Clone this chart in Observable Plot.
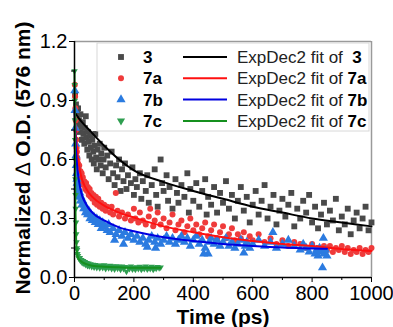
<!DOCTYPE html>
<html><head><meta charset="utf-8">
<script src="https://cdn.jsdelivr.net/npm/d3@7"></script>
<script src="https://cdn.jsdelivr.net/npm/@observablehq/plot@0.6"></script>
<style>body{margin:0;background:#fff} svg{font-family:"Liberation Sans",Arial,sans-serif}</style>
</head><body><div id="chart"></div>
<script>
const seriesNames = ["3","7a","7b","7c"];
const fitPrefix = "ExpDec2 fit of ";
const xLabel = "Time (ps)";
const xTicks = [0,200,400,600,800,1000];
const xMinor = [100,300,500,700,900];
const yTicks = [0,0.3,0.6,0.9,1.2];
const yMinor = [0.15,0.45,0.75,1.05];

// scatter data: [time (ps), normalized ΔO.D.]
const s3 = [[2,0.93],[5,0.88],[8,0.84],[10,0.78],[12,0.86],[15,0.80],[18,0.74],[20,0.83],[22,0.77],[25,0.70],[28,0.79],[30,0.73],[33,0.68],[35,0.76],[38,0.82],[40,0.71],[43,0.65],[45,0.74],[48,0.69],[50,0.62],[53,0.72],[55,0.66],[58,0.60],[60,0.70],[63,0.64],[65,0.58],[68,0.67],[70,0.73],[73,0.61],[75,0.55],[78,0.65],[80,0.60],[85,0.68],[88,0.57],[90,0.63],[95,0.53],[98,0.60],[100,0.66],[105,0.56],[110,0.62],[115,0.50],[120,0.58],[125,0.64],[130,0.53],[135,0.47],[140,0.57],[145,0.51],[150,0.60],[155,0.44],[160,0.55],[165,0.49],[170,0.58],[175,0.45],[180,0.52],[190,0.48],[195,0.56],[200,0.42],[205,0.50],[210,0.46],[220,0.53],[225,0.40],[230,0.49],[240,0.44],[245,0.52],[250,0.38],[260,0.47],[270,0.55],[275,0.42],[280,0.36],[290,0.60],[295,0.48],[300,0.44],[310,0.52],[315,0.39],[320,0.46],[330,0.35],[340,0.50],[345,0.43],[350,0.38],[360,0.47],[370,0.41],[380,0.53],[385,0.33],[390,0.45],[400,0.39],[410,0.48],[420,0.36],[430,0.44],[440,0.50],[445,0.32],[450,0.41],[460,0.37],[470,0.46],[480,0.33],[490,0.43],[500,0.38],[510,0.49],[520,0.35],[530,0.42],[540,0.30],[550,0.39],[560,0.46],[570,0.34],[580,0.41],[590,0.28],[600,0.37],[610,0.44],[620,0.32],[630,0.39],[640,0.47],[650,0.30],[660,0.36],[670,0.42],[680,0.27],[690,0.34],[700,0.40],[710,0.31],[720,0.37],[730,0.43],[740,0.26],[750,0.35],[760,0.30],[770,0.39],[780,0.33],[790,0.42],[800,0.28],[810,0.36],[820,0.25],[830,0.32],[840,0.38],[850,0.27],[860,0.34],[870,0.29],[880,0.40],[890,0.24],[900,0.31],[910,0.27],[920,0.35],[930,0.22],[940,0.29],[950,0.33],[960,0.25],[970,0.30],[980,0.36],[990,0.24],[1000,0.28]];
const s7a = [[1,0.98],[2,0.92],[3,0.86],[4,0.80],[5,0.75],[6,0.70],[7,0.66],[8,0.64],[9,0.61],[10,0.60],[12,0.58],[14,0.55],[16,0.57],[18,0.52],[20,0.54],[22,0.50],[24,0.53],[26,0.48],[28,0.51],[30,0.47],[33,0.49],[36,0.45],[39,0.48],[42,0.44],[45,0.46],[48,0.42],[51,0.45],[54,0.41],[57,0.43],[60,0.40],[64,0.42],[68,0.38],[72,0.41],[76,0.37],[80,0.40],[85,0.36],[90,0.38],[95,0.35],[100,0.37],[105,0.34],[110,0.36],[120,0.33],[125,0.36],[130,0.32],[139,0.43],[145,0.34],[150,0.31],[160,0.33],[170,0.30],[180,0.32],[190,0.29],[200,0.35],[205,0.30],[215,0.28],[220,0.33],[230,0.29],[240,0.27],[250,0.31],[255,0.35],[265,0.26],[270,0.29],[280,0.33],[290,0.27],[300,0.30],[310,0.25],[320,0.28],[330,0.32],[340,0.24],[350,0.27],[360,0.29],[370,0.23],[380,0.26],[390,0.30],[400,0.24],[410,0.27],[420,0.22],[430,0.25],[440,0.28],[450,0.21],[460,0.24],[470,0.27],[480,0.20],[490,0.23],[500,0.26],[510,0.20],[520,0.22],[530,0.25],[540,0.19],[550,0.22],[560,0.20],[570,0.23],[580,0.18],[590,0.21],[600,0.19],[620,0.22],[640,0.18],[660,0.20],[680,0.17],[700,0.19],[720,0.16],[740,0.18],[760,0.17],[780,0.15],[800,0.17],[820,0.15],[840,0.16],[850,0.14],[860,0.16],[870,0.13],[880,0.15],[890,0.14],[900,0.16],[910,0.13],[920,0.15],[930,0.12],[940,0.14],[950,0.13],[960,0.15],[970,0.12],[980,0.14],[990,0.13],[1000,0.15]];
const s7b = [[1,0.95],[2,0.85],[3,0.76],[4,0.68],[5,0.62],[6,0.57],[7,0.53],[8,0.50],[9,0.48],[10,0.46],[12,0.44],[14,0.45],[16,0.41],[18,0.43],[20,0.39],[22,0.41],[25,0.37],[28,0.39],[31,0.35],[34,0.37],[37,0.33],[40,0.35],[44,0.32],[48,0.34],[52,0.30],[56,0.32],[60,0.29],[65,0.31],[70,0.28],[75,0.30],[80,0.27],[85,0.29],[90,0.25],[95,0.28],[100,0.26],[110,0.24],[115,0.27],[120,0.23],[130,0.25],[135,0.19],[140,0.22],[150,0.24],[160,0.21],[165,0.17],[170,0.23],[180,0.20],[190,0.22],[200,0.19],[210,0.21],[220,0.18],[230,0.20],[240,0.17],[245,0.155],[250,0.19],[260,0.21],[270,0.18],[273,0.15],[280,0.20],[290,0.17],[300,0.19],[310,0.21],[320,0.18],[330,0.20],[340,0.17],[350,0.19],[360,0.21],[370,0.18],[380,0.20],[390,0.16],[400,0.19],[410,0.21],[420,0.17],[430,0.19],[435,0.12],[440,0.15],[450,0.12],[455,0.18],[460,0.20],[470,0.17],[480,0.19],[490,0.16],[500,0.18],[510,0.20],[520,0.16],[530,0.18],[540,0.15],[550,0.17],[560,0.19],[570,0.125],[575,0.16],[580,0.18],[590,0.15],[600,0.17],[620,0.19],[640,0.16],[660,0.18],[668,0.23],[680,0.15],[700,0.17],[720,0.19],[740,0.16],[760,0.14],[770,0.17],[780,0.15],[790,0.13],[800,0.16],[810,0.12],[815,0.14],[820,0.11],[825,0.15],[830,0.13],[835,0.05],[838,0.20],[840,0.12],[845,0.14],[850,0.11]];
const s7c = [[0,1.05],[0.5,0.98],[1,0.9],[1.5,0.8],[2,0.7],[2.5,0.6],[3,0.5],[3.5,0.42],[4,0.35],[5,0.28],[6,0.22],[7,0.18],[8,0.15],[9,0.14],[10,0.12],[12,0.11],[14,0.10],[16,0.095],[18,0.10],[20,0.085],[23,0.09],[26,0.075],[29,0.085],[32,0.07],[35,0.08],[38,0.065],[41,0.075],[44,0.06],[47,0.072],[50,0.058],[54,0.068],[58,0.055],[62,0.066],[66,0.052],[70,0.064],[75,0.05],[80,0.062],[85,0.048],[90,0.06],[95,0.05],[100,0.063],[105,0.045],[110,0.058],[115,0.048],[120,0.06],[125,0.044],[130,0.056],[135,0.042],[140,0.058],[145,0.046],[150,0.055],[155,0.04],[160,0.057],[165,0.045],[170,0.054],[175,0.03],[180,0.052],[185,0.044],[190,0.056],[195,0.042],[200,0.05],[205,0.04],[210,0.053],[215,0.045],[220,0.055],[225,0.04],[230,0.05],[235,0.044],[240,0.056],[245,0.042],[250,0.05],[255,0.045],[260,0.055],[265,0.04],[270,0.05],[275,0.046],[280,0.054],[285,0.048],[290,0.052]];

// fitted curves
const fit3 = [[0,0.84],[25,0.79],[50,0.75],[100,0.67],[150,0.60],[200,0.545],[300,0.485],[400,0.44],[500,0.40],[600,0.36],[700,0.33],[800,0.30],[900,0.28],[1000,0.26]];
const fit7a = [[0,0.85],[5,0.72],[10,0.63],[20,0.53],[40,0.45],[60,0.41],[100,0.365],[150,0.33],[200,0.305],[300,0.26],[400,0.23],[500,0.205],[600,0.185],[700,0.17],[800,0.16],[900,0.145],[1000,0.135]];
const fit7b = [[0,0.85],[5,0.65],[10,0.55],[20,0.45],[40,0.37],[60,0.33],[100,0.29],[150,0.255],[200,0.235],[300,0.205],[400,0.185],[500,0.17],[600,0.16],[700,0.152],[800,0.148],[850,0.146]];
const fit7c = [[0,1.05],[1,0.8],[2,0.55],[3,0.38],[5,0.22],[8,0.13],[12,0.10],[20,0.085],[40,0.068],[60,0.06],[100,0.055],[150,0.052],[200,0.05],[290,0.05]];

const dotColors = ["#4a4a4a","#ef3b3b","#2b7be0","#2e9e50"];
const lineColors = ["#000000","#ff1010","#0000e0","#15901e"];

const triDown = {draw(ctx,size){const y=Math.sqrt(size/(Math.sqrt(3)*3));ctx.moveTo(0,2*y);ctx.lineTo(-Math.sqrt(3)*y,-y);ctx.lineTo(Math.sqrt(3)*y,-y);ctx.closePath();}};
const symbols = ["square","circle","triangle",triDown];
const radii = [3.3,3,3.4,2.4];
const scatter = [s3,s7a,s7b,s7c];
const fits = [fit3,fit7a,fit7b,fit7c];

const X = d=>d[0], Y = d=>d[1];
const plot = Plot.plot({
  width:393, height:327, marginLeft:74, marginRight:22, marginTop:41, marginBottom:50,
  style:{fontFamily:"Liberation Sans, Arial, sans-serif", fontSize:"20px", color:"#000", background:"#fff", overflow:"visible"},
  x:{domain:[0,1000]}, y:{domain:[0,1.2]},
  marks:[
    Plot.ruleY([1.2],{stroke:"#9a9a9a",strokeWidth:1.5}),
    Plot.ruleX([1000],{stroke:"#9a9a9a",strokeWidth:1.5}),
    ...scatter.map((s,i)=>Plot.dot(s,{x:X,y:Y,symbol:()=>symbols[i],r:radii[i],fill:dotColors[i],stroke:null})),
    ...fits.map((f,i)=>Plot.line(f,{x:X,y:Y,stroke:lineColors[i],strokeWidth:2,curve:"monotone-x"})),
    Plot.axisX(xMinor,{tickSize:3,tickFormat:()=>"",label:null}),
    Plot.axisY(yMinor,{tickSize:3,tickFormat:()=>"",label:null}),
    Plot.axisX(xTicks,{tickSize:5,tickPadding:3.5,fontSize:20,label:null,tickFormat:d=>String(d)}),
    Plot.axisY(yTicks,{tickSize:5,tickPadding:2,fontSize:20,label:null,tickFormat:d=>d.toFixed(1)}),
    Plot.ruleX([0],{stroke:"#000",strokeWidth:1.5}),
    Plot.ruleY([0],{stroke:"#000",strokeWidth:1.5})
  ]
});
document.getElementById("chart").appendChild(plot);

const svg = d3.select(plot);
// axis titles
svg.append("text").attr("x",223).attr("y",323.5).attr("text-anchor","middle")
  .attr("font-size",21).attr("font-weight","bold").attr("fill","#000").text(xLabel);
const yl = svg.append("text").attr("transform","translate(30,158) rotate(-90)").attr("text-anchor","middle")
  .attr("font-size",21).attr("font-weight","bold").attr("fill","#000");
yl.append("tspan").text("Normalized ");
yl.append("tspan").attr("font-weight","normal").text("\u2206");
yl.append("tspan").text(" O.D. (576 nm)");

// legend
const lg = svg.append("g").attr("text-anchor","start");
lg.append("rect").attr("x",97).attr("y",43).attr("width",272).attr("height",88)
  .attr("fill","#fff").attr("stroke","#d8d8d8").attr("stroke-width",1);
seriesNames.forEach((name,i)=>{
  const cy = 57 + i*21.3;
  const sym = typeof symbols[i]==="string" ? {square:d3.symbolSquare,circle:d3.symbolCircle,triangle:d3.symbolTriangle}[symbols[i]] : symbols[i];
  lg.append("path").attr("transform",`translate(121,${cy})`)
    .attr("d",d3.symbol(sym, Math.PI*radii[i]*radii[i]*(i===3?1.6:1))()).attr("fill",dotColors[i]);
  lg.append("text").attr("x",143).attr("y",cy+6).attr("text-anchor","start").attr("font-size",17).attr("font-weight","bold").attr("fill","#000").text(name);
  lg.append("line").attr("x1",183).attr("x2",227).attr("y1",cy).attr("y2",cy).attr("stroke",lineColors[i]).attr("stroke-width",2);
  const t = lg.append("text").attr("x",237).attr("y",cy+6).attr("text-anchor","start").attr("font-size",17).attr("fill","#222");
  t.append("tspan").text(fitPrefix + (i===0?" ":""));
  t.append("tspan").attr("font-weight","bold").attr("fill","#000").text(name);
});
</script></body></html>
